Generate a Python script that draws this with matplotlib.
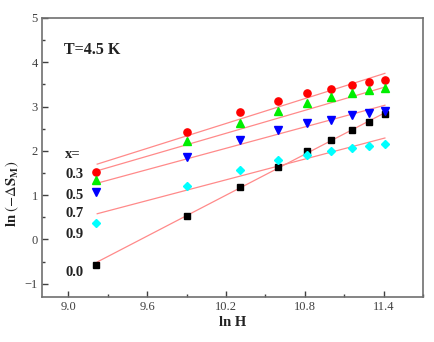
import matplotlib
matplotlib.use("Agg")
import matplotlib.pyplot as plt
from matplotlib.ticker import MultipleLocator

# ln H for H = 10, 20, ... 90 kOe
lnH = [9.21, 9.90, 10.31, 10.60, 10.82, 11.00, 11.16, 11.29, 11.41]

# ln(-dS_M), one list per composition
y_03 = [1.52, 2.42, 2.87, 3.12, 3.30, 3.40, 3.49, 3.56, 3.60]
y_05 = [1.35, 2.23, 2.64, 2.91, 3.09, 3.22, 3.30, 3.37, 3.43]
y_07 = [1.07, 1.86, 2.25, 2.47, 2.62, 2.70, 2.81, 2.85, 2.91]
y_09 = [0.38, 1.20, 1.57, 1.80, 1.91, 1.99, 2.06, 2.11, 2.15]
y_00 = [-0.58, 0.52, 1.18, 1.64, 2.00, 2.25, 2.47, 2.66, 2.83]

# linear fit lines (start / end values)
fit_x = [9.22, 11.41]
fit_03 = [1.70, 3.75]
fit_05 = [1.55, 3.44]
fit_07 = [1.27, 3.03]
fit_09 = [0.58, 2.29]
fit_00 = [-0.51, 2.86]

labels = ["0.3", "0.5", "0.7", "0.9", "0.0"]
label_y = [1.46, 0.99, 0.58, 0.11, -0.75]

plt.rcParams['font.family'] = ['Liberation Serif', 'DejaVu Serif']
plt.rcParams['mathtext.fontset'] = 'stix'

fig = plt.figure(figsize=(4.35, 3.42), dpi=100)
ax = fig.add_axes([0.0966, 0.1316, 0.8758, 0.8158])

line_col = '#ff8a8a'
for fy in [fit_03, fit_05, fit_07, fit_09, fit_00]:
    ax.plot(fit_x, fy, color=line_col, lw=0.9, zorder=1)

ax.plot(lnH, y_03, 'o', color='#ff0000', ms=5.2, mec='#ff0000', zorder=3)
ax.plot(lnH, y_05, '^', color='#00ee00', ms=5.5, mec='#00ee00', zorder=3)
ax.plot(lnH, y_07, 'v', color='#0000ff', ms=5.5, mec='#0000ff', zorder=3)
ax.plot(lnH, y_09, 'D', color='#00ffff', ms=4.5, mec='#00ffff', zorder=3)
ax.plot(lnH, y_00, 's', color='#000000', ms=4.8, mec='#000000', zorder=2)

ax.set_xlim(8.80, 11.70)
ax.set_ylim(-1.3, 5.0)
ax.xaxis.set_major_locator(MultipleLocator(0.6))
ax.xaxis.set_minor_locator(MultipleLocator(0.3))
ax.yaxis.set_major_locator(MultipleLocator(1))
ax.yaxis.set_minor_locator(MultipleLocator(0.5))
ax.set_xticks([9.0, 9.6, 10.2, 10.8, 11.4])
ax.set_xticklabels(['9.0', '9.6', '10.2', '10.8', '11.4'])

ax.tick_params(which='both', direction='in', top=False, right=False,
               colors='#404040', labelsize=9, width=1, pad=3)
ax.tick_params(which='major', length=4)
ax.tick_params(which='minor', length=2.5)
for s in ax.spines.values():
    s.set_color('#707070')
    s.set_linewidth(1.2)

ax.set_xlabel('ln H', fontsize=10.5, fontweight='bold', color='#222222', labelpad=2)
ax.set_ylabel(r'ln $(-\Delta \mathbf{S}_{\mathbf{M}})$', fontsize=10.5, fontweight='bold',
              color='#222222')
ax.yaxis.set_label_coords(-0.055, 0.37)

ax.text(8.965, 4.27, 'T=4.5 K', fontsize=11.5, fontweight='bold', color='#222222',
        va='center')
ax.text(8.975, 1.91, 'x=', fontsize=10.5, fontweight='bold', color='#222222', va='center')
for lab, ly in zip(labels, label_y):
    ax.text(8.975, ly, lab, fontsize=10.5, fontweight='bold', color='#222222', va='center')

fig.savefig('out.png', dpi=100)
